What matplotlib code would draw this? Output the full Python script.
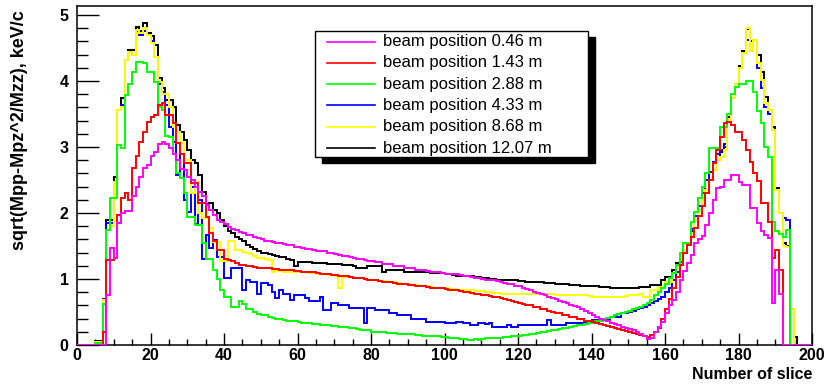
import matplotlib
matplotlib.use("Agg")
import matplotlib.pyplot as plt
from matplotlib.patches import Rectangle
from matplotlib.ticker import MultipleLocator
import numpy as np

plt.rcParams['font.family'] = ['Liberation Sans', 'DejaVu Sans']

# histogram: 200 slices, 0..200
x_min, x_max = 0, 200

labels = ["beam position 0.46 m", "beam position 1.43 m", "beam position 2.88 m",
          "beam position 4.33 m", "beam position 8.68 m", "beam position 12.07 m"]
colors = ["#ff00ff", "#ff0000", "#00ff00", "#0000ff", "#ffff00", "#000000"]

pos_046 = [
  0, 0, 0, 0, 0, 0, 0, 0, 0.76, 1.47,
  1.32, 1.85, 2.00, 2.03, 2.03, 2.25, 2.40, 2.55, 2.68, 2.73,
  2.86, 2.93, 3.05, 3.07, 3.05, 2.98, 2.90, 2.80, 2.67, 2.65,
  2.55, 2.50, 2.40, 2.32, 2.25, 2.12, 2.05, 1.97, 1.89, 1.86,
  1.84, 1.79, 1.76, 1.74, 1.71, 1.69, 1.67, 1.66, 1.63, 1.62,
  1.60, 1.58, 1.58, 1.56, 1.55, 1.54, 1.53, 1.51, 1.51, 1.49,
  1.48, 1.47, 1.46, 1.46, 1.44, 1.43, 1.42, 1.42, 1.40, 1.39,
  1.38, 1.37, 1.35, 1.35, 1.33, 1.32, 1.31, 1.31, 1.29, 1.28,
  1.27, 1.25, 1.25, 1.23, 1.22, 1.22, 1.20, 1.19, 1.19, 1.17,
  1.16, 1.16, 1.14, 1.13, 1.13, 1.12, 1.11, 1.10, 1.10, 1.09,
  1.08, 1.08, 1.07, 1.07, 1.06, 1.05, 1.04, 1.03, 1.02, 1.01,
  1.00, 0.99, 0.99, 0.98, 0.97, 0.96, 0.94, 0.93, 0.92, 0.90,
  0.89, 0.87, 0.85, 0.83, 0.81, 0.79, 0.77, 0.75, 0.73, 0.71,
  0.69, 0.67, 0.65, 0.63, 0.61, 0.59, 0.57, 0.54, 0.51, 0.48,
  0.45, 0.42, 0.40, 0.38, 0.36, 0.34, 0.32, 0.30, 0.28, 0.26,
  0.24, 0.22, 0.19, 0.16, 0.13, 0.09, 0.10, 0.20, 0.28, 0.35,
  0.48, 0.60, 0.68, 0.81, 0.98, 1.12, 1.24, 1.36, 1.54, 1.60,
  1.65, 1.82, 2.00, 2.20, 2.38, 2.40, 2.50, 2.50, 2.58, 2.58,
  2.47, 2.42, 2.42, 2.07, 2.07, 1.85, 1.72, 1.67, 1.62, 0.63,
  1.14, 0.77, 0, 0, 0, 0, 0, 0, 0, 0,
]

pos_143 = [
  0, 0, 0, 0, 0, 0, 0, 0.20, 1.29, 1.29,
  1.32, 1.97, 2.22, 2.30, 2.20, 2.68, 2.86, 3.08, 3.23, 3.38,
  3.46, 3.48, 3.64, 3.66, 3.48, 3.48, 3.36, 3.06, 2.90, 2.75,
  2.75, 2.45, 2.45, 2.15, 2.15, 1.94, 1.69, 1.57, 1.44, 1.44,
  1.31, 1.29, 1.27, 1.24, 1.21, 1.21, 1.20, 1.19, 1.18, 1.17,
  1.17, 1.16, 1.16, 1.15, 1.15, 1.14, 1.14, 1.13, 1.13, 1.12,
  1.12, 1.11, 1.11, 1.10, 1.10, 1.09, 1.08, 1.08, 1.07, 1.06,
  1.06, 1.05, 1.04, 1.04, 1.03, 1.02, 1.01, 1.01, 1.00, 0.99,
  0.98, 0.98, 0.97, 0.96, 0.96, 0.95, 0.94, 0.93, 0.93, 0.92,
  0.91, 0.91, 0.90, 0.89, 0.89, 0.88, 0.87, 0.87, 0.86, 0.86,
  0.85, 0.84, 0.84, 0.83, 0.82, 0.81, 0.80, 0.79, 0.78, 0.77,
  0.76, 0.75, 0.74, 0.73, 0.72, 0.71, 0.70, 0.68, 0.67, 0.65,
  0.64, 0.62, 0.61, 0.60, 0.58, 0.57, 0.55, 0.54, 0.52, 0.50,
  0.49, 0.48, 0.46, 0.45, 0.43, 0.42, 0.40, 0.39, 0.37, 0.36,
  0.35, 0.33, 0.32, 0.30, 0.29, 0.27, 0.26, 0.24, 0.23, 0.21,
  0.20, 0.18, 0.17, 0.15, 0.13, 0.12, 0.15, 0.20, 0.25, 0.40,
  0.55, 0.70, 0.86, 1.03, 1.21, 1.39, 1.52, 1.64, 1.78, 1.95,
  2.10, 2.30, 2.50, 2.75, 2.95, 3.15, 3.36, 3.38, 3.33, 3.23,
  3.23, 3.10, 2.95, 2.78, 2.60, 2.48, 2.15, 2.15, 1.87, 1.32,
  1.44, 1.14, 0, 0, 0, 0, 0, 0, 0, 0,
]

pos_288 = [
  0, 0, 0, 0, 0, 0.03, 0.03, 0.62, 1.74, 2.22,
  2.22, 3.03, 2.98, 3.79, 3.96, 4.14, 4.29, 4.29, 4.27, 4.14,
  4.14, 3.99, 3.60, 3.56, 3.17, 3.15, 2.90, 2.60, 2.53, 2.30,
  1.94, 1.94, 1.82, 1.82, 1.55, 1.31, 1.30, 1.14, 1.00, 0.83,
  0.72, 0.72, 0.58, 0.58, 0.66, 0.62, 0.55, 0.55, 0.50, 0.47,
  0.45, 0.45, 0.42, 0.41, 0.40, 0.39, 0.38, 0.37, 0.36, 0.36,
  0.35, 0.34, 0.33, 0.33, 0.32, 0.32, 0.31, 0.30, 0.30, 0.29,
  0.29, 0.28, 0.28, 0.27, 0.26, 0.25, 0.24, 0.23, 0.22, 0.22,
  0.20, 0.20, 0.19, 0.19, 0.18, 0.18, 0.18, 0.17, 0.17, 0.17,
  0.16, 0.16, 0.15, 0.15, 0.14, 0.14, 0.14, 0.13, 0.13, 0.12,
  0.12, 0.11, 0.10, 0.10, 0.09, 0.09, 0.08, 0.08, 0.09, 0.08,
  0.09, 0.10, 0.10, 0.10, 0.11, 0.11, 0.12, 0.12, 0.13, 0.14,
  0.14, 0.15, 0.15, 0.16, 0.17, 0.18, 0.19, 0.20, 0.21, 0.22,
  0.23, 0.24, 0.25, 0.26, 0.27, 0.29, 0.30, 0.31, 0.32, 0.33,
  0.34, 0.36, 0.37, 0.39, 0.41, 0.43, 0.45, 0.47, 0.48, 0.50,
  0.52, 0.54, 0.56, 0.58, 0.61, 0.64, 0.68, 0.75, 0.81, 0.87,
  0.93, 1.02, 1.09, 1.21, 1.39, 1.54, 1.55, 1.87, 2.02, 2.22,
  2.40, 2.60, 2.98, 2.98, 2.98, 3.31, 3.31, 3.50, 3.81, 3.91,
  3.96, 3.96, 4.00, 4.00, 3.84, 3.54, 3.36, 3.00, 2.85, 1.87,
  1.72, 1.68, 1.64, 1.74, 0, 0, 0, 0, 0, 0,
]

pos_433 = [
  0, 0, 0, 0, 0, 0.05, 0.05, 0.70, 1.85, 1.85,
  2.47, 3.56, 3.63, 4.32, 4.44, 4.40, 4.75, 4.70, 4.75, 4.70,
  4.60, 4.37, 3.96, 3.84, 3.64, 3.30, 3.08, 2.58, 2.90, 2.20,
  2.02, 2.40, 1.84, 2.20, 1.31, 1.67, 1.47, 1.59, 1.34, 1.34,
  1.01, 1.01, 1.16, 1.16, 1.16, 0.83, 0.98, 0.95, 0.95, 0.78,
  0.94, 0.94, 0.91, 0.80, 0.71, 0.83, 0.78, 0.78, 0.68, 0.76,
  0.76, 0.76, 0.71, 0.66, 0.66, 0.66, 0.73, 0.53, 0.53, 0.63,
  0.63, 0.61, 0.61, 0.61, 0.56, 0.56, 0.56, 0.56, 0.33, 0.56,
  0.56, 0.53, 0.53, 0.53, 0.53, 0.48, 0.48, 0.45, 0.45, 0.45,
  0.45, 0.40, 0.40, 0.40, 0.40, 0.35, 0.35, 0.35, 0.35, 0.35,
  0.33, 0.33, 0.33, 0.35, 0.35, 0.33, 0.33, 0.30, 0.30, 0.33,
  0.33, 0.32, 0.33, 0.28, 0.28, 0.28, 0.28, 0.30, 0.28, 0.28,
  0.30, 0.30, 0.30, 0.30, 0.30, 0.31, 0.30, 0.30, 0.38, 0.30,
  0.30, 0.30, 0.30, 0.33, 0.33, 0.33, 0.33, 0.33, 0.33, 0.33,
  0.38, 0.38, 0.38, 0.38, 0.38, 0.43, 0.43, 0.43, 0.48, 0.48,
  0.50, 0.52, 0.54, 0.56, 0.58, 0.60, 0.63, 0.66, 0.70, 0.73,
  0.80, 0.87, 0.98, 1.10, 1.25, 1.40, 1.55, 1.75, 1.95, 2.10,
  2.30, 2.50, 2.62, 2.78, 2.90, 2.96, 3.05, 3.41, 3.74, 3.96,
  4.20, 4.42, 4.62, 4.45, 4.62, 4.20, 3.90, 3.60, 3.50, 3.26,
  2.35, 2.00, 1.92, 1.90, 0, 0, 0, 0, 0, 0,
]

pos_868 = [
  0, 0, 0, 0, 0, 0.05, 0.05, 0.68, 1.74, 1.80,
  2.47, 3.56, 3.61, 4.32, 4.44, 4.40, 4.77, 4.72, 4.80, 4.70,
  4.57, 4.37, 3.99, 3.81, 3.81, 3.61, 3.31, 3.23, 3.06, 2.80,
  2.80, 2.30, 2.47, 2.00, 1.92, 1.92, 1.77, 1.56, 1.56, 1.27,
  1.27, 1.57, 1.57, 1.44, 1.44, 1.41, 1.40, 1.38, 1.35, 1.32,
  1.32, 1.30, 1.29, 1.11, 1.12, 1.12, 1.11, 1.11, 1.10, 1.10,
  1.11, 1.10, 1.10, 1.09, 1.09, 1.08, 1.08, 1.07, 1.06, 1.06,
  1.05, 0.86, 1.04, 1.03, 1.03, 1.02, 1.01, 1.01, 1.00, 0.99,
  0.99, 0.98, 0.97, 0.97, 0.96, 0.95, 0.95, 0.94, 0.93, 0.93,
  0.92, 0.91, 0.91, 0.90, 0.89, 0.89, 0.88, 0.87, 0.87, 0.86,
  0.86, 0.85, 0.85, 0.84, 0.84, 0.83, 0.83, 0.83, 0.82, 0.82,
  0.82, 0.81, 0.80, 0.79, 0.79, 0.78, 0.78, 0.78, 0.78, 0.78,
  0.78, 0.78, 0.78, 0.77, 0.77, 0.77, 0.77, 0.77, 0.77, 0.77,
  0.76, 0.76, 0.76, 0.76, 0.76, 0.76, 0.75, 0.75, 0.75, 0.74,
  0.73, 0.73, 0.73, 0.73, 0.73, 0.73, 0.73, 0.73, 0.73, 0.74,
  0.76, 0.76, 0.76, 0.78, 0.73, 0.73, 0.83, 0.83, 0.88, 0.88,
  0.96, 0.96, 1.09, 1.19, 1.22, 1.44, 1.55, 1.70, 1.90, 2.05,
  2.20, 2.35, 2.50, 2.65, 2.80, 2.85, 2.96, 3.41, 3.74, 3.96,
  4.20, 4.42, 4.80, 4.45, 4.62, 4.27, 4.02, 3.66, 3.56, 3.26,
  2.35, 2.00, 1.50, 1.48, 0.55, 0, 0, 0, 0, 0,
]

pos_1207 = [
  0, 0, 0, 0, 0, 0.06, 0.06, 0.70, 1.89, 1.89,
  2.55, 3.56, 3.74, 4.32, 4.47, 4.47, 4.82, 4.75, 4.88, 4.72,
  4.68, 4.55, 4.05, 3.90, 3.71, 3.71, 3.60, 3.33, 3.23, 3.10,
  2.95, 2.80, 2.75, 2.58, 2.32, 2.14, 2.15, 2.05, 2.00, 1.90,
  1.80, 1.72, 1.69, 1.64, 1.60, 1.57, 1.52, 1.49, 1.45, 1.42,
  1.40, 1.39, 1.38, 1.36, 1.35, 1.34, 1.34, 1.31, 1.29, 1.19,
  1.26, 1.26, 1.25, 1.25, 1.24, 1.24, 1.24, 1.24, 1.23, 1.23,
  1.23, 1.22, 1.21, 1.21, 1.21, 1.20, 1.16, 1.16, 1.16, 1.19,
  1.19, 1.19, 1.19, 1.11, 1.14, 1.14, 1.14, 1.13, 1.13, 1.11,
  1.11, 1.11, 1.11, 1.11, 1.10, 1.10, 1.09, 1.09, 1.09, 1.09,
  1.08, 1.07, 1.06, 1.05, 1.04, 1.04, 1.04, 1.04, 1.03, 1.03,
  1.02, 1.01, 1.00, 1.00, 0.99, 0.99, 0.98, 0.98, 0.98, 0.98,
  0.97, 0.97, 0.96, 0.96, 0.96, 0.95, 0.95, 0.94, 0.94, 0.94,
  0.93, 0.93, 0.92, 0.92, 0.91, 0.91, 0.91, 0.90, 0.90, 0.89,
  0.89, 0.89, 0.88, 0.88, 0.88, 0.87, 0.87, 0.86, 0.86, 0.86,
  0.86, 0.86, 0.87, 0.88, 0.88, 0.88, 0.91, 0.91, 0.91, 0.98,
  1.03, 1.03, 1.14, 1.24, 1.26, 1.44, 1.55, 1.72, 1.90, 2.05,
  2.20, 2.35, 2.50, 2.65, 2.80, 2.93, 3.00, 3.45, 3.74, 3.96,
  4.22, 4.45, 4.78, 4.60, 4.62, 4.40, 4.14, 3.75, 3.56, 3.30,
  2.38, 2.00, 1.55, 1.50, 0.55, 0.12, 0, 0, 0, 0,
]

series = [pos_046, pos_143, pos_288, pos_433, pos_868, pos_1207]

fig = plt.figure(figsize=(8.25, 3.89), dpi=100)
ax = fig.add_axes([77 / 825, 44 / 389, 735 / 825, 339 / 389])

edges = np.linspace(x_min, x_max, len(pos_046) + 1)
# draw order: black at the bottom, magenta on top
z = {5: 1, 3: 2, 4: 3, 2: 4, 1: 5, 0: 6}
for i, vals in enumerate(series):
  ax.stairs(vals, edges, baseline=0, color=colors[i], lw=1.4, zorder=z[i])

ax.set_xlim(x_min, x_max)
ax.set_ylim(0, 5.136)
ax.xaxis.set_major_locator(MultipleLocator(20))
ax.xaxis.set_minor_locator(MultipleLocator(5))
ax.yaxis.set_major_locator(MultipleLocator(1))
ax.yaxis.set_minor_locator(MultipleLocator(0.2))

ax.tick_params(axis='x', which='major', direction='in', length=8.5, width=1.0, pad=2.5)
ax.tick_params(axis='x', which='minor', direction='in', length=4.3, width=1.0)
ax.tick_params(axis='y', which='major', direction='in', length=16, width=1.0, pad=6)
ax.tick_params(axis='y', which='minor', direction='in', length=8, width=1.0)
ax.tick_params(which='both', top=False, right=False, labelsize=11.5)
for lab in ax.get_xticklabels() + ax.get_yticklabels():
  lab.set_fontweight('bold')
for s in ax.spines.values():
  s.set_linewidth(1.1)

ax.set_xlabel("Number of slice", fontsize=11.5, fontweight='bold', loc='right')
ax.xaxis.set_label_coords(1.0, -0.088)
ax.xaxis.label.set_va('center')
ax.set_ylabel("sqrt(Mpp-Mpz^2/Mzz), keV/c", fontsize=13, fontweight='bold', loc='top')
ax.yaxis.set_label_coords(-0.078, 0.988)
ax.yaxis.label.set_va('center')

# ROOT-style legend box with a solid shadow
bx, by, bw, bh = 0.324, 0.555, 0.371, 0.372
ax.add_patch(Rectangle((bx + 0.0095, by - 0.0177), bw, bh, transform=ax.transAxes,
                       facecolor='black', edgecolor='black', zorder=10, clip_on=False))
ax.add_patch(Rectangle((bx, by), bw, bh, transform=ax.transAxes,
                       facecolor='white', edgecolor='black', lw=1.0, zorder=11, clip_on=False))
row0, dy = 0.895, 0.0628
for i, lab in enumerate(labels):
  yy = row0 - i * dy
  ax.plot([0.340, 0.405], [yy, yy], transform=ax.transAxes, color=colors[i], lw=1.2, zorder=12)
  ax.text(0.416, yy, lab, transform=ax.transAxes, fontsize=12, va='center', ha='left', zorder=12)

ax.set_xlim(x_min, x_max)
ax.set_ylim(0, 5.136)
fig.savefig("out.png", dpi=100)
